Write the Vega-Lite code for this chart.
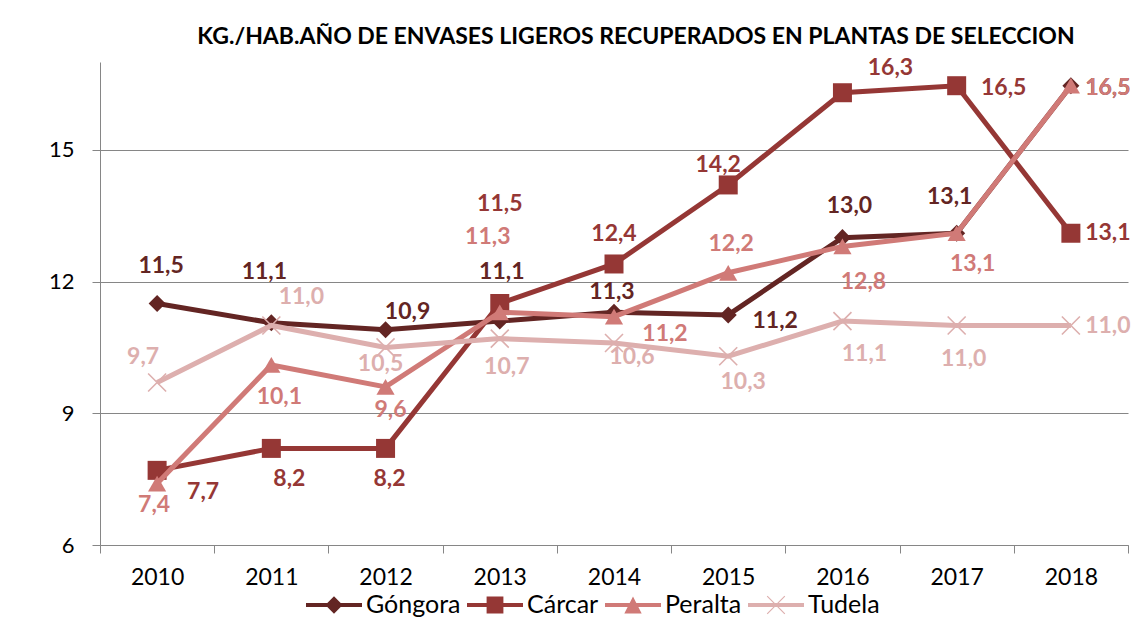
{
  "$schema": "https://vega.github.io/schema/vega-lite/v6.json",
  "autosize": "none",
  "width": 1028,
  "height": 483,
  "padding": {"left": 100, "top": 62, "right": 4, "bottom": 85},
  "background": "#ffffff",
  "config": {
    "font": "Lato",
    "view": {"stroke": null},
    "locale": {"number": {"decimal": ",", "thousands": ".", "grouping": [3], "currency": ["", " €"]}}
  },
  "title": {
    "text": "KG./HAB.AÑO DE ENVASES LIGEROS RECUPERADOS EN PLANTAS DE SELECCION",
    "anchor": "middle",
    "frame": "group",
    "dx": 22,
    "font": "Lato",
    "fontSize": 23,
    "fontWeight": "bold",
    "color": "#000000",
    "baseline": "alphabetic",
    "offset": -10
  },
  "data": {
    "values": [
      {"s": "Góngora", "y": "2010", "v": 11.5},
      {"s": "Góngora", "y": "2011", "v": 11.06},
      {"s": "Góngora", "y": "2012", "v": 10.9},
      {"s": "Góngora", "y": "2013", "v": 11.1},
      {"s": "Góngora", "y": "2014", "v": 11.3},
      {"s": "Góngora", "y": "2015", "v": 11.24},
      {"s": "Góngora", "y": "2016", "v": 13.0},
      {"s": "Góngora", "y": "2017", "v": 13.1},
      {"s": "Góngora", "y": "2018", "v": 16.46},
      {"s": "Cárcar", "y": "2010", "v": 7.7},
      {"s": "Cárcar", "y": "2011", "v": 8.2},
      {"s": "Cárcar", "y": "2012", "v": 8.2},
      {"s": "Cárcar", "y": "2013", "v": 11.5},
      {"s": "Cárcar", "y": "2014", "v": 12.4},
      {"s": "Cárcar", "y": "2015", "v": 14.2},
      {"s": "Cárcar", "y": "2016", "v": 16.3},
      {"s": "Cárcar", "y": "2017", "v": 16.46},
      {"s": "Cárcar", "y": "2018", "v": 13.1},
      {"s": "Peralta", "y": "2010", "v": 7.4},
      {"s": "Peralta", "y": "2011", "v": 10.1},
      {"s": "Peralta", "y": "2012", "v": 9.6},
      {"s": "Peralta", "y": "2013", "v": 11.3},
      {"s": "Peralta", "y": "2014", "v": 11.2},
      {"s": "Peralta", "y": "2015", "v": 12.2},
      {"s": "Peralta", "y": "2016", "v": 12.8},
      {"s": "Peralta", "y": "2017", "v": 13.1},
      {"s": "Peralta", "y": "2018", "v": 16.46},
      {"s": "Tudela", "y": "2010", "v": 9.7},
      {"s": "Tudela", "y": "2011", "v": 11.0},
      {"s": "Tudela", "y": "2012", "v": 10.5},
      {"s": "Tudela", "y": "2013", "v": 10.7},
      {"s": "Tudela", "y": "2014", "v": 10.6},
      {"s": "Tudela", "y": "2015", "v": 10.3},
      {"s": "Tudela", "y": "2016", "v": 11.1},
      {"s": "Tudela", "y": "2017", "v": 11.0},
      {"s": "Tudela", "y": "2018", "v": 11.0}
    ]
  },
  "encoding": {
    "x": {
      "field": "y", "type": "ordinal",
      "scale": {"type": "band", "paddingInner": 0, "paddingOuter": 0},
      "axis": {
        "title": null, "labelAngle": 0, "grid": false, "tickBand": "extent",
        "tickSize": 8, "tickColor": "#868686", "domainColor": "#868686",
        "labelFont": "Lato", "labelFontSize": 23, "labelColor": "#000000", "labelPadding": 13
      }
    },
    "y": {
      "field": "v", "type": "quantitative",
      "scale": {"domain": [6, 17], "nice": false, "zero": false},
      "axis": {
        "title": null, "values": [6, 9, 12, 15], "grid": true, "gridColor": "#868686", "gridWidth": 1,
        "tickSize": 8, "tickColor": "#868686", "domainColor": "#868686",
        "labelFont": "Lato", "labelFontSize": 22, "labelColor": "#000000", "labelPadding": 18
      }
    }
  },
  "layer": [
    {
      "mark": {"type": "point", "filled": true, "opacity": 0},
      "encoding": {
        "color": {
          "field": "s", "type": "nominal",
          "scale": {"domain": ["Góngora", "Cárcar", "Peralta", "Tudela"], "range": ["#632523", "#953735", "#D07A77", "#DDAFAE"]},
          "legend": {
            "title": null, "orient": "none", "direction": "horizontal", "legendX": 206, "legendY": 515,
            "padding": 0, "symbolSize": 3136, "symbolOpacity": 1, "symbolStrokeWidth": 0,
            "labelFont": "Lato", "labelFontSize": 25, "labelColor": "#000000", "labelOffset": 4, "columnPadding": 6
          }
        },
        "shape": {
          "field": "s", "type": "nominal",
          "scale": {
            "domain": ["Góngora", "Cárcar", "Peralta", "Tudela"],
            "range": [
              "M-1,-0.07H1V0.07H-1Z M0,-0.31L0.31,0L0,0.31L-0.31,0Z",
              "M-1,-0.07H1V0.07H-1Z M-0.3,-0.3H0.3V0.3H-0.3Z",
              "M-1,-0.07H1V0.07H-1Z M0,-0.3L0.31,0.3L-0.31,0.3Z",
              "M-1,-0.07H1V0.07H-1Z M-0.33,-0.3L-0.3,-0.33L0.33,0.3L0.3,0.33Z M0.3,-0.33L0.33,-0.3L-0.3,0.33L-0.33,0.3Z"
            ]
          },
          "legend": {
            "title": null, "orient": "none", "direction": "horizontal", "legendX": 206, "legendY": 515,
            "padding": 0, "symbolSize": 3136, "symbolOpacity": 1, "symbolStrokeWidth": 0,
            "labelFont": "Lato", "labelFontSize": 25, "labelColor": "#000000", "labelOffset": 4, "columnPadding": 6
          }
        }
      }
    },
    {
      "transform": [{"filter": "datum.s === 'Góngora'"}],
      "layer": [
        {"mark": {"type": "line", "color": "#632523", "strokeWidth": 5}},
        {"mark": {"type": "point", "shape": "diamond", "filled": true, "opacity": 1, "color": "#632523", "size": 290}}
      ]
    },
    {
      "transform": [{"filter": "datum.s === 'Cárcar'"}],
      "layer": [
        {"mark": {"type": "line", "color": "#953735", "strokeWidth": 5}},
        {"mark": {"type": "point", "shape": "square", "filled": true, "opacity": 1, "color": "#953735", "size": 361}}
      ]
    },
    {
      "transform": [{"filter": "datum.s === 'Peralta'"}],
      "layer": [
        {"mark": {"type": "line", "color": "#D07A77", "strokeWidth": 5}},
        {"mark": {"type": "point", "shape": "triangle-up", "filled": true, "opacity": 1, "color": "#D07A77", "size": 330}}
      ]
    },
    {
      "transform": [{"filter": "datum.s === 'Tudela'"}],
      "layer": [
        {"mark": {"type": "line", "color": "#DDAFAE", "strokeWidth": 5}},
        {"mark": {"type": "point", "shape": "M-1,-1L1,1M-1,1L1,-1", "filled": false, "opacity": 1, "color": "#DDAFAE", "strokeWidth": 1.6, "size": 324}}
      ]
    },
    {
      "encoding": {
        "text": {"field": "v", "type": "quantitative", "format": ".1f"},
        "color": {
          "field": "s", "type": "nominal",
          "scale": {"domain": ["Góngora", "Cárcar", "Peralta", "Tudela"], "range": ["#632523", "#953735", "#D07A77", "#DDAFAE"]},
          "legend": null
        }
      },
      "layer": [
        {"transform": [{"filter": "datum.s === 'Góngora' && datum.y === '2010'"}], "mark": {"type": "text", "fontSize": 23, "fontWeight": "bold", "dx": 4, "dy": -38}},
        {"transform": [{"filter": "datum.s === 'Góngora' && datum.y === '2011'"}], "mark": {"type": "text", "fontSize": 23, "fontWeight": "bold", "dx": -7, "dy": -51}},
        {"transform": [{"filter": "datum.s === 'Góngora' && datum.y === '2012'"}], "mark": {"type": "text", "fontSize": 23, "fontWeight": "bold", "dx": 22, "dy": -18}},
        {"transform": [{"filter": "datum.s === 'Góngora' && datum.y === '2013'"}], "mark": {"type": "text", "fontSize": 23, "fontWeight": "bold", "dx": 2, "dy": -49}},
        {"transform": [{"filter": "datum.s === 'Góngora' && datum.y === '2014'"}], "mark": {"type": "text", "fontSize": 23, "fontWeight": "bold", "dx": -2, "dy": -20}},
        {"transform": [{"filter": "datum.s === 'Góngora' && datum.y === '2015'"}], "mark": {"type": "text", "fontSize": 23, "fontWeight": "bold", "dx": 47, "dy": 6}},
        {"transform": [{"filter": "datum.s === 'Góngora' && datum.y === '2016'"}], "mark": {"type": "text", "fontSize": 23, "fontWeight": "bold", "dx": 7, "dy": -32}},
        {"transform": [{"filter": "datum.s === 'Góngora' && datum.y === '2017'"}], "mark": {"type": "text", "fontSize": 23, "fontWeight": "bold", "dx": -7, "dy": -36}},
        {"transform": [{"filter": "datum.s === 'Góngora' && datum.y === '2018'"}], "mark": {"type": "text", "fontSize": 23, "fontWeight": "bold", "dx": 37, "dy": 2}},
        {"transform": [{"filter": "datum.s === 'Cárcar' && datum.y === '2010'"}], "mark": {"type": "text", "fontSize": 23, "fontWeight": "bold", "dx": 46, "dy": 22}},
        {"transform": [{"filter": "datum.s === 'Cárcar' && datum.y === '2011'"}], "mark": {"type": "text", "fontSize": 23, "fontWeight": "bold", "dx": 18, "dy": 31}},
        {"transform": [{"filter": "datum.s === 'Cárcar' && datum.y === '2012'"}], "mark": {"type": "text", "fontSize": 23, "fontWeight": "bold", "dx": 4, "dy": 31}},
        {"transform": [{"filter": "datum.s === 'Cárcar' && datum.y === '2013'"}], "mark": {"type": "text", "fontSize": 23, "fontWeight": "bold", "dx": 0, "dy": -100}},
        {"transform": [{"filter": "datum.s === 'Cárcar' && datum.y === '2014'"}], "mark": {"type": "text", "fontSize": 23, "fontWeight": "bold", "dx": 0, "dy": -30}},
        {"transform": [{"filter": "datum.s === 'Cárcar' && datum.y === '2015'"}], "mark": {"type": "text", "fontSize": 23, "fontWeight": "bold", "dx": -10, "dy": -20}},
        {"transform": [{"filter": "datum.s === 'Cárcar' && datum.y === '2016'"}], "mark": {"type": "text", "fontSize": 23, "fontWeight": "bold", "dx": 48, "dy": -25}},
        {"transform": [{"filter": "datum.s === 'Cárcar' && datum.y === '2017'"}], "mark": {"type": "text", "fontSize": 23, "fontWeight": "bold", "dx": 47, "dy": 2}},
        {"transform": [{"filter": "datum.s === 'Cárcar' && datum.y === '2018'"}], "mark": {"type": "text", "fontSize": 23, "fontWeight": "bold", "dx": 37, "dy": 0}},
        {"transform": [{"filter": "datum.s === 'Peralta' && datum.y === '2010'"}], "mark": {"type": "text", "fontSize": 23, "fontWeight": "bold", "dx": -3, "dy": 21}},
        {"transform": [{"filter": "datum.s === 'Peralta' && datum.y === '2011'"}], "mark": {"type": "text", "fontSize": 23, "fontWeight": "bold", "dx": 8, "dy": 32}},
        {"transform": [{"filter": "datum.s === 'Peralta' && datum.y === '2012'"}], "mark": {"type": "text", "fontSize": 23, "fontWeight": "bold", "dx": 5, "dy": 23}},
        {"transform": [{"filter": "datum.s === 'Peralta' && datum.y === '2013'"}], "mark": {"type": "text", "fontSize": 23, "fontWeight": "bold", "dx": -12, "dy": -75}},
        {"transform": [{"filter": "datum.s === 'Peralta' && datum.y === '2014'"}], "mark": {"type": "text", "fontSize": 23, "fontWeight": "bold", "dx": 51, "dy": 17}},
        {"transform": [{"filter": "datum.s === 'Peralta' && datum.y === '2015'"}], "mark": {"type": "text", "fontSize": 23, "fontWeight": "bold", "dx": 3, "dy": -29}},
        {"transform": [{"filter": "datum.s === 'Peralta' && datum.y === '2016'"}], "mark": {"type": "text", "fontSize": 23, "fontWeight": "bold", "dx": 21, "dy": 36}},
        {"transform": [{"filter": "datum.s === 'Peralta' && datum.y === '2017'"}], "mark": {"type": "text", "fontSize": 23, "fontWeight": "bold", "dx": 16, "dy": 31}},
        {"transform": [{"filter": "datum.s === 'Peralta' && datum.y === '2018'"}], "mark": {"type": "text", "fontSize": 23, "fontWeight": "bold", "dx": 37, "dy": 2}},
        {"transform": [{"filter": "datum.s === 'Tudela' && datum.y === '2010'"}], "mark": {"type": "text", "fontSize": 23, "fontWeight": "bold", "dx": -14, "dy": -26}},
        {"transform": [{"filter": "datum.s === 'Tudela' && datum.y === '2011'"}], "mark": {"type": "text", "fontSize": 23, "fontWeight": "bold", "dx": 30, "dy": -28}},
        {"transform": [{"filter": "datum.s === 'Tudela' && datum.y === '2012'"}], "mark": {"type": "text", "fontSize": 23, "fontWeight": "bold", "dx": -5, "dy": 17}},
        {"transform": [{"filter": "datum.s === 'Tudela' && datum.y === '2013'"}], "mark": {"type": "text", "fontSize": 23, "fontWeight": "bold", "dx": 7, "dy": 28}},
        {"transform": [{"filter": "datum.s === 'Tudela' && datum.y === '2014'"}], "mark": {"type": "text", "fontSize": 23, "fontWeight": "bold", "dx": 18, "dy": 14}},
        {"transform": [{"filter": "datum.s === 'Tudela' && datum.y === '2015'"}], "mark": {"type": "text", "fontSize": 23, "fontWeight": "bold", "dx": 15, "dy": 26}},
        {"transform": [{"filter": "datum.s === 'Tudela' && datum.y === '2016'"}], "mark": {"type": "text", "fontSize": 23, "fontWeight": "bold", "dx": 22, "dy": 33}},
        {"transform": [{"filter": "datum.s === 'Tudela' && datum.y === '2017'"}], "mark": {"type": "text", "fontSize": 23, "fontWeight": "bold", "dx": 7, "dy": 34}},
        {"transform": [{"filter": "datum.s === 'Tudela' && datum.y === '2018'"}], "mark": {"type": "text", "fontSize": 23, "fontWeight": "bold", "dx": 37, "dy": 1}}
      ]
    }
  ]
}
